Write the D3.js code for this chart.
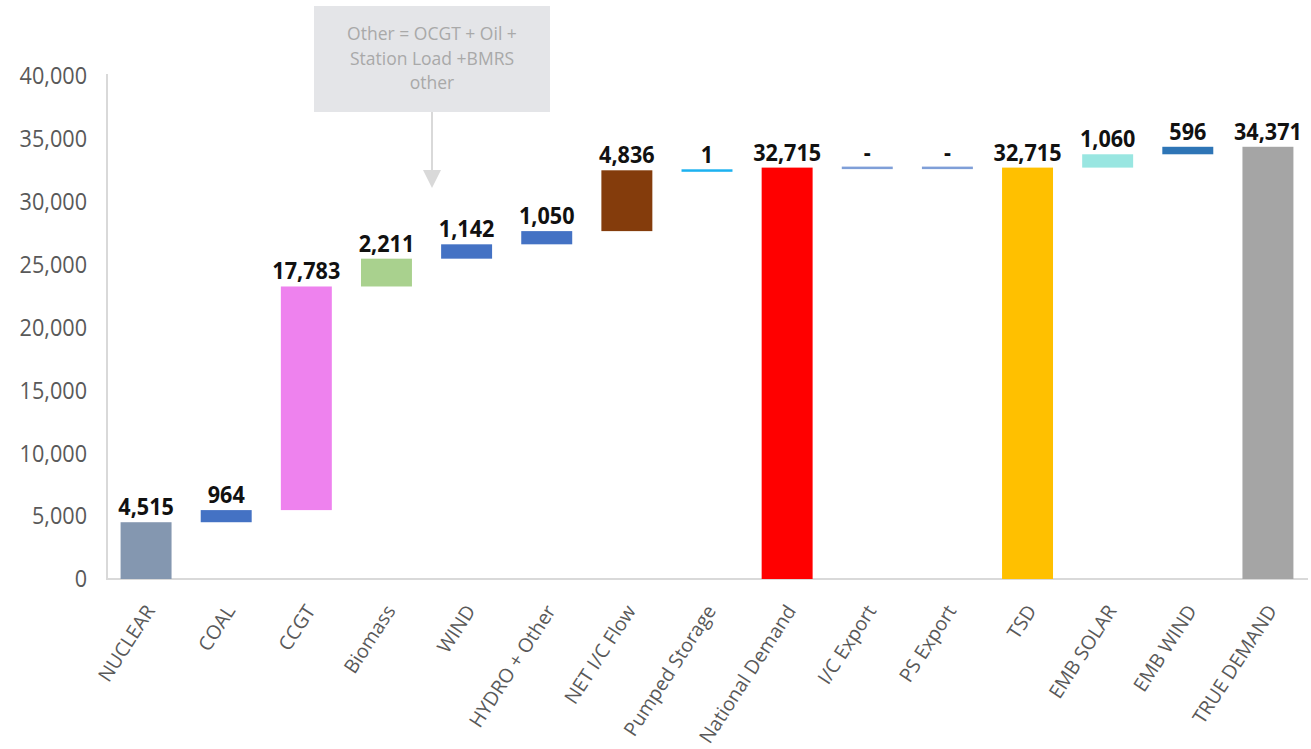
<!DOCTYPE html>
<html>
<head>
<meta charset="utf-8">
<script src="https://cdn.jsdelivr.net/npm/d3@7"></script>
<style>
  html, body { margin: 0; padding: 0; background: #fff; }
  svg { display: block; }
</style>
</head>
<body>
<svg id="chart" width="1311" height="749"></svg>
<script>
// ---- data ----
const categories = ["NUCLEAR", "COAL", "CCGT", "Biomass", "WIND", "HYDRO + Other", "NET I/C Flow",
  "Pumped Storage", "National Demand", "I/C Export", "PS Export", "TSD", "EMB SOLAR", "EMB WIND", "TRUE DEMAND"];
const values = [4515, 964, 17783, 2211, 1142, 1050, 4836, 1, 32715, 0, 0, 32715, 1060, 596, 34371];
// "delta" bars float on the running total, "total" bars stand on zero and reset it
const barKinds = ["delta", "delta", "delta", "delta", "delta", "delta", "delta", "delta", "total",
  "delta", "delta", "total", "delta", "delta", "total"];
const yTicks = [0, 5000, 10000, 15000, 20000, 25000, 30000, 35000, 40000];
const noteLines = ["Other = OCGT + Oil +", "Station Load +BMRS", "other"];

// ---- styles ----
const barColors = ["#8497B0", "#4472C4", "#EE82EE", "#A9D18E", "#4472C4", "#4472C4", "#843C0C",
  "#1DB2F0", "#FF0000", "#7F9FD8", "#7F9FD8", "#FFC000", "#99E6E1", "#2E75B6", "#A5A5A5"];

// ---- build waterfall ----
let running = 0;
const rows = categories.map((c, i) => {
  let start, end;
  if (barKinds[i] === "total") { start = 0; end = values[i]; running = values[i]; }
  else { start = running; end = running + values[i]; running = end; }
  return { cat: c, value: values[i], start, end, color: barColors[i] };
});

const svg = d3.select("#chart");

const x = d3.scaleBand().domain(categories).range([106, 1308]).paddingInner(0.364).paddingOuter(0.182);
const y = d3.scaleLinear().domain([0, 40000]).range([579, 76]);

// axes lines
svg.append("line").attr("x1", 107).attr("x2", 107).attr("y1", y(40000) - 2).attr("y2", y(0))
  .attr("stroke", "#D9D9D9").attr("stroke-width", 2);
svg.append("line").attr("x1", 106).attr("x2", 1308).attr("y1", y(0)).attr("y2", y(0))
  .attr("stroke", "#D9D9D9").attr("stroke-width", 2);

// y tick labels
const fmt = d3.format(",");
svg.append("g").selectAll("text").data(yTicks).join("text")
  .attr("transform", d => `translate(87,${y(d)}) scale(0.94,1)`)
  .attr("dy", "0.36em")
  .attr("text-anchor", "end")
  .attr("font-family", "'Open Sans', sans-serif").attr("font-size", 23)
  .attr("fill", "#595959")
  .text(d => fmt(d));

// bars
svg.append("g").selectAll("rect").data(rows).join("rect")
  .attr("x", d => x(d.cat))
  .attr("width", x.bandwidth())
  .attr("y", d => {
    const top = y(Math.max(d.start, d.end)), bot = y(Math.min(d.start, d.end));
    return (bot - top) < 2 ? (top + bot) / 2 - 1 : top;
  })
  .attr("height", d => {
    const h = Math.abs(y(d.start) - y(d.end));
    return h < 2 ? 2.5 : h;
  })
  .attr("fill", d => d.color);

// value labels
svg.append("g").selectAll("text").data(rows).join("text")
  .attr("transform", d => `translate(${x(d.cat) + x.bandwidth() / 2},${y(Math.max(d.start, d.end)) - 7}) scale(0.92,1)`)
  .attr("text-anchor", "middle")
  .attr("font-family", "'Open Sans', sans-serif").attr("font-size", 23.5)
  .attr("font-weight", "bold")
  .attr("fill", "#111")
  .text(d => d.value === 0 ? "-" : fmt(d.value));

// x category labels
svg.append("g").selectAll("text").data(categories).join("text")
  .attr("transform", d => `translate(${x(d) + x.bandwidth() / 2 + 4},607) rotate(-57)`)
  .attr("text-anchor", "end")
  .attr("dy", "0.35em")
  .attr("font-family", "'Open Sans', sans-serif").attr("font-size", 19.5)
  .attr("fill", "#595959")
  .text(d => d);

// annotation callout
const note = svg.append("g");
note.append("rect").attr("x", 314).attr("y", 6).attr("width", 236).attr("height", 106)
  .attr("fill", "#E4E5E8");
note.selectAll("text").data(noteLines).join("text")
  .attr("x", 432).attr("y", (d, i) => 34 + i * 24.5).attr("dy", "0.35em")
  .attr("text-anchor", "middle")
  .attr("font-family", "'Open Sans', sans-serif").attr("font-size", 17.5)
  .attr("fill", "#A9A9A9")
  .text(d => d);
note.append("line").attr("x1", 432).attr("x2", 432).attr("y1", 112).attr("y2", 175)
  .attr("stroke", "#D9D9D9").attr("stroke-width", 2);
note.append("path").attr("d", "M423,170 L441,170 L432,188 Z").attr("fill", "#D9D9D9");
</script>
</body>
</html>
